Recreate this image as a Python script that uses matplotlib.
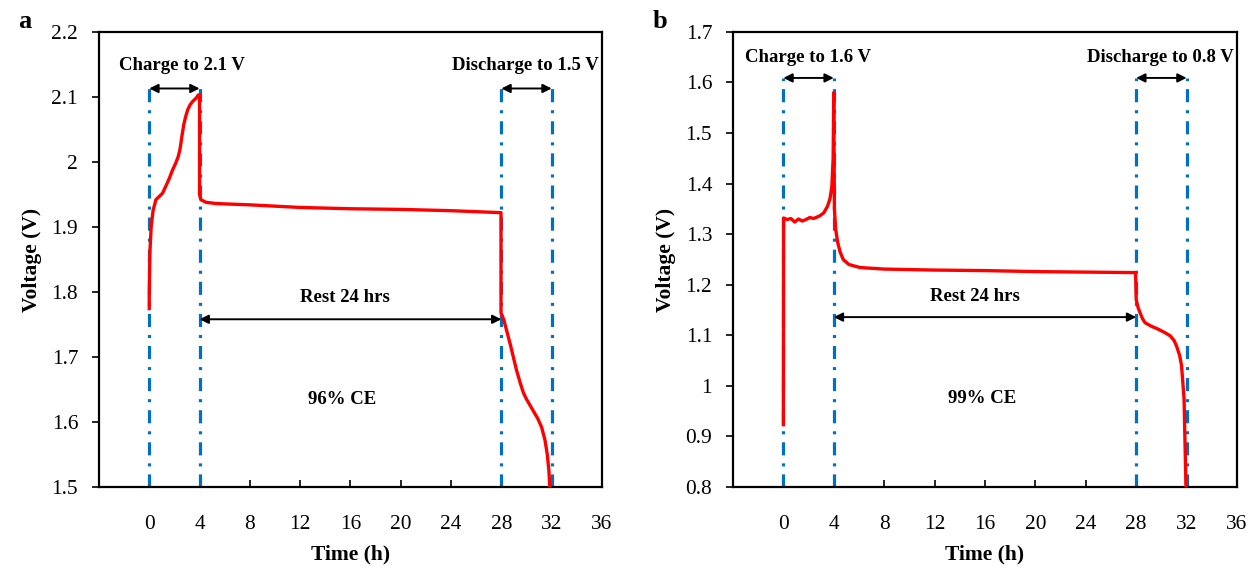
import matplotlib
matplotlib.use("Agg")
import matplotlib.pyplot as plt

plt.rcParams['font.family'] = ['Liberation Serif', 'DejaVu Serif']

# ---- data -------------------------------------------------------------
time_a = [0, 0, 0.05, 0.15, 0.3, 0.53, 0.8, 1.06, 1.3, 1.6, 1.86, 2.1, 2.3,
          2.45, 2.6, 2.75, 2.9, 3.05, 3.25, 3.45, 3.72, 3.9, 4.0, 4.0, 4.1,
          4.5, 5.3, 8, 12, 16, 20, 24, 27.97, 27.97, 28.2, 28.4, 28.7, 28.95,
          29.2, 29.5, 29.75, 30.0, 30.3, 30.6, 30.9, 31.2, 31.47, 31.65, 31.78,
          31.85]
volt_a = [1.772, 1.80, 1.86, 1.90, 1.925, 1.942, 1.947, 1.952, 1.962, 1.975,
          1.988, 1.998, 2.008, 2.02, 2.04, 2.058, 2.07, 2.08, 2.088, 2.093,
          2.098, 2.103, 2.103, 1.95, 1.942, 1.938, 1.936, 1.934, 1.930, 1.928,
          1.927, 1.925, 1.922, 1.768, 1.757, 1.742, 1.72, 1.70, 1.68, 1.66,
          1.645, 1.635, 1.625, 1.615, 1.605, 1.592, 1.572, 1.55, 1.525, 1.50]

time_b = [0, 0.02, 0.3, 0.6, 0.9, 1.2, 1.5, 1.8, 2.1, 2.4, 2.87, 3.2, 3.5,
          3.7, 3.85, 3.95, 4.0, 4.05, 4.15, 4.3, 4.5, 4.75, 5.2, 6.1, 8, 12,
          16, 20, 24, 27.95, 28.0, 28.15, 28.3, 28.5, 28.7, 29.2, 29.76, 30.3,
          30.7, 31.0, 31.2, 31.45, 31.6, 31.8, 31.95]
volt_b = [0.92, 1.332, 1.329, 1.331, 1.324, 1.330, 1.326, 1.329, 1.333, 1.331,
          1.336, 1.342, 1.355, 1.370, 1.395, 1.45, 1.58, 1.35, 1.31, 1.285,
          1.265, 1.25, 1.24, 1.234, 1.231, 1.229, 1.228, 1.226, 1.225, 1.224,
          1.171, 1.155, 1.145, 1.133, 1.125, 1.118, 1.112, 1.105, 1.099, 1.09,
          1.079, 1.06, 1.04, 0.974, 0.80]

x_ticks = [0, 4, 8, 12, 16, 20, 24, 28, 32, 36]
y_ticks_a = [1.5, 1.6, 1.7, 1.8, 1.9, 2.0, 2.1, 2.2]
y_ticks_b = [0.8, 0.9, 1.0, 1.1, 1.2, 1.3, 1.4, 1.5, 1.6, 1.7]
step_marks = [0, 4, 28, 32]

panels = [
    dict(tag='a', t=time_a, v=volt_a, yt=y_ticks_a, top=2.113,
         charge='Charge to 2.1 V', charge_x=2.6,
         discharge='Discharge to 1.5 V', label_y=2.149,
         rest_y=1.758, rest_text=(15.6, 1.792), ce='96% CE', ce_pos=(15.3, 1.634)),
    dict(tag='b', t=time_b, v=volt_b, yt=y_ticks_b, top=1.609,
         charge='Charge to 1.6 V', charge_x=1.95,
         discharge='Discharge to 0.8 V', label_y=1.649,
         rest_y=1.136, rest_text=(15.2, 1.177), ce='99% CE', ce_pos=(15.8, 0.976)),
]

# ---- figure -----------------------------------------------------------
fig = plt.figure(figsize=(12.51, 5.71), dpi=100)
boxes = [[0.0791, 0.1471, 0.4021, 0.7970], [0.5859, 0.1471, 0.4029, 0.7970]]
tag_x = [0.0145, 0.5215]
blue = '#0070C0'

for box, p, tx in zip(boxes, panels, tag_x):
    ax = fig.add_axes(box)
    ax.set_xlim(-4, 36)
    ax.set_ylim(p['yt'][0], p['yt'][-1])

    # step boundaries (dash-dot)
    for xm in step_marks:
        ax.plot([xm, xm], [p['yt'][0], p['top']], color=blue, lw=2.3,
                dashes=(4.1, 2.5, 0.95, 2.5), zorder=2)

    # voltage trace
    ax.plot(p['t'], p['v'], color='#FF0000', lw=2.4, zorder=3,
            solid_joinstyle='round', solid_capstyle='butt')

    arrow = dict(arrowstyle='<|-|>', color='black', lw=1.4,
                 mutation_scale=13, shrinkA=0, shrinkB=0)
    ax.annotate('', xy=(4, p['top']), xytext=(0, p['top']), arrowprops=arrow)
    ax.annotate('', xy=(32, p['top']), xytext=(28, p['top']), arrowprops=arrow)
    ax.annotate('', xy=(28, p['rest_y']), xytext=(4, p['rest_y']), arrowprops=arrow)

    bold = dict(fontsize=13.5, fontweight='bold', ha='center', va='center')
    ax.text(p['charge_x'], p['label_y'], p['charge'], **bold)
    ax.text(29.9, p['label_y'], p['discharge'], **bold)
    ax.text(*p['rest_text'], 'Rest 24 hrs', **bold)
    ax.text(*p['ce_pos'], p['ce'], **bold)

    ax.set_xticks(x_ticks)
    ax.set_xticklabels([str(x) for x in x_ticks])
    ax.set_yticks(p['yt'])
    ax.set_yticklabels([f'{y:g}' for y in p['yt']])
    ax.tick_params(axis='x', direction='in', length=5, width=1.2, pad=20,
                   labelsize=15.4)
    ax.tick_params(axis='y', direction='out', length=5, width=1.2, pad=10,
                   labelsize=15.4)
    for s in ax.spines.values():
        s.set_linewidth(1.6)

    ax.set_xlabel('Time (h)', fontsize=15.5, fontweight='bold', labelpad=8)
    ax.set_ylabel('Voltage (V)', fontsize=15.5, fontweight='bold', labelpad=7)
    fig.text(tx, 0.963, p['tag'], fontsize=19, fontweight='bold',
             ha='left', va='center')

fig.savefig('out.png', dpi=100)
